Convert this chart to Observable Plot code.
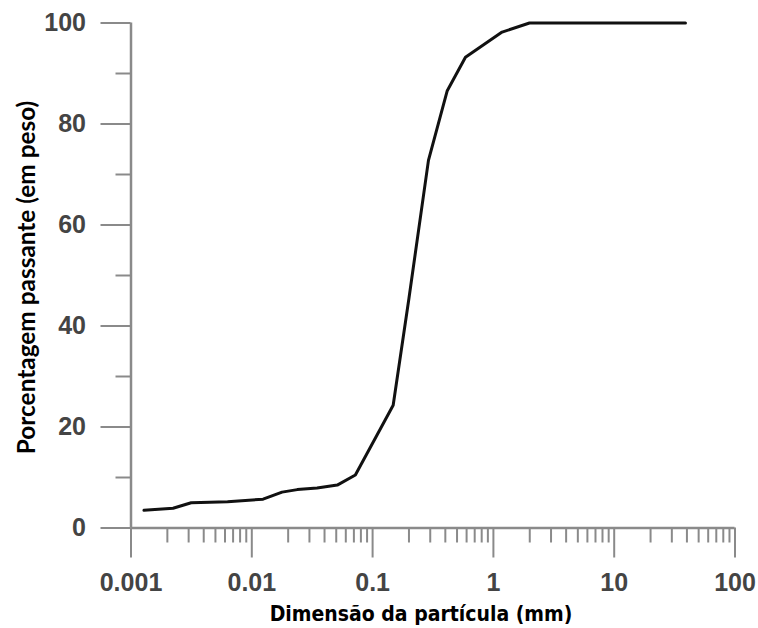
<!DOCTYPE html>
<html>
<head>
<meta charset="utf-8">
<script src="https://cdn.jsdelivr.net/npm/d3@7"></script>
<script src="https://cdn.jsdelivr.net/npm/@observablehq/plot@0.6"></script>
<style>
  html, body { margin: 0; padding: 0; background: #fff; }
</style>
</head>
<body>
<div id="chart"></div>
<script>
const diameters = [0.00128, 0.00223, 0.00315, 0.0045, 0.0063, 0.0124, 0.0178, 0.0238, 0.0347, 0.051, 0.072, 0.148, 0.2, 0.29, 0.415, 0.587, 1.18, 1.99, 38.9];
const passing   = [3.5, 3.9, 5.0, 5.1, 5.2, 5.7, 7.1, 7.6, 7.9, 8.5, 10.5, 24.3, 45.5, 72.8, 86.6, 93.2, 98.2, 100, 100];
const xMajorTicks = [0.001, 0.01, 0.1, 1, 10, 100];
const xTickLabels = ["0.001", "0.01", "0.1", "1", "10", "100"];
const xMinorMultipliers = [2, 3, 4, 5, 6, 7, 8, 9];
const yMajorTicks = [0, 20, 40, 60, 80, 100];
const yMinorTicks = [10, 30, 50, 70, 90];
const xTitle = "Dimensão da partícula (mm)";
const yTitle = "Porcentagem passante (em peso)";

const data = diameters.map((d, i) => ({d, p: passing[i]}));
const xMinorTicks = xMajorTicks.slice(0, -1).flatMap(t => xMinorMultipliers.map(m => +(t * m).toPrecision(3)));

const axisColor = "#8a8a8a";
const labelColor = "#444";

const chart = Plot.plot({
  width: 758,
  height: 628,
  marginLeft: 130.5,
  marginRight: 23.5,
  marginTop: 22.5,
  marginBottom: 100.5,
  style: {background: "#fff", overflow: "visible"},
  x: {type: "log", domain: [0.001, 100]},
  y: {domain: [0, 100]},
  marks: [
    Plot.axisX(xMinorTicks, {tickSize: 15, stroke: axisColor, strokeWidth: 2, text: null, label: null}),
    Plot.axisX(xMajorTicks, {tickSize: 30, tickPadding: 15, stroke: axisColor, strokeWidth: 2,
      tickFormat: d => xTickLabels[xMajorTicks.indexOf(d)],
      fontSize: 25, fontWeight: "bold", fill: labelColor, fontFamily: "Liberation Sans, Arial, sans-serif", label: null}),
    Plot.axisY(yMinorTicks, {tickSize: 15, stroke: axisColor, strokeWidth: 2, text: null, label: null}),
    Plot.axisY(yMajorTicks, {tickSize: 30, tickPadding: 15, stroke: axisColor, strokeWidth: 2,
      fontSize: 25, fontWeight: "bold", fill: labelColor, fontFamily: "Liberation Sans, Arial, sans-serif", label: null}),
    Plot.ruleX([0.001], {stroke: axisColor, strokeWidth: 2.5}),
    Plot.ruleY([0], {stroke: axisColor, strokeWidth: 2.5}),
    Plot.line(data, {x: "d", y: "p", stroke: "#111", strokeWidth: 3, strokeLinejoin: "round"}),
    Plot.text([xTitle], {frameAnchor: "bottom", text: d => d, dy: 86, dx: -12, lineAnchor: "middle", textAnchor: "middle",
      fontSize: 21, fontWeight: "bold", fill: "#000", fontFamily: "DejaVu Sans Condensed, DejaVu Sans, sans-serif"}),
    Plot.text([yTitle], {frameAnchor: "left", text: d => d, dx: -104, dy: 2, rotate: -90, lineAnchor: "middle", textAnchor: "middle",
      fontSize: 24.4, fontWeight: "bold", fill: "#000", fontFamily: "Lato, sans-serif"})
  ]
});
document.getElementById("chart").appendChild(chart);
</script>
</body>
</html>
